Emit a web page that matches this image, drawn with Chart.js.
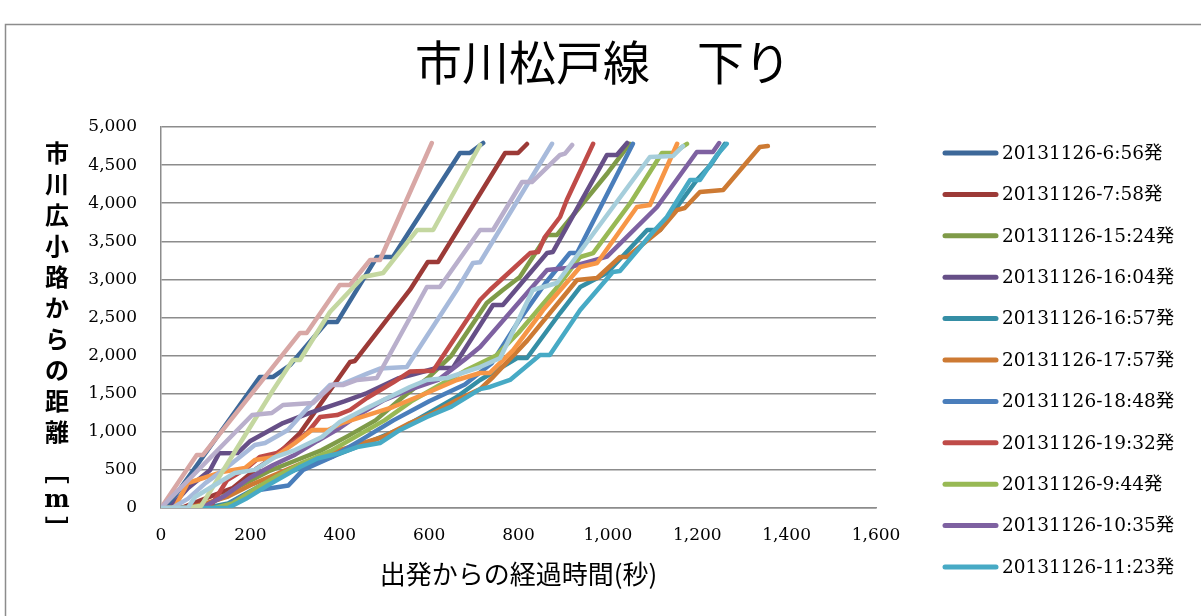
<!DOCTYPE html>
<html lang="ja">
<head>
<meta charset="utf-8">
<title>市川松戸線 下り</title>
<script src="https://cdn.jsdelivr.net/npm/chart.js@4.4.1/dist/chart.umd.min.js"></script>
<style>
  html, body { margin: 0; padding: 0; background: #fff; }
  #wrap { width: 1201px; height: 616px; }
</style>
</head>
<body>
<div id="wrap"><canvas id="chart" width="1201" height="616"></canvas></div>
<script>
// [elapsed seconds, metres from 市川広小路] for each bus run
const run0656 = [[0,0],[12,0],[221,1720],[251,1720],[289,1877],[371,2440],[394,2440],[483,3294],[519,3294],[669,4658],[691,4658],[721,4790]];
const run0758 = [[0,0],[45,0],[110,150],[160,260],[215,520],[260,700],[311,984],[423,1916],[434,1930],[557,2861],[597,3228],[620,3228],[770,4659],[799,4659],[819,4777]];
const run1524 = [[0,0],[80,0],[130,120],[180,300],[240,480],[300,620],[360,760],[420,950],[480,1150],[540,1450],[600,1720],[650,2000],[729,2690],[765,2861],[803,3031],[864,3583],[886,3583],[1000,4400],[1049,4780]];
const run1604 = [[0,0],[20,0],[60,260],[110,500],[130,720],[172,722],[200,880],[273,1115],[333,1247],[410,1400],[461,1509],[530,1700],[617,1837],[653,1837],[743,2664],[765,2664],[864,3346],[877,3360],[998,4633],[1020,4633],[1043,4790]];
const run1657 = [[0,0],[100,0],[150,60],[200,220],[250,380],[300,500],[360,620],[420,760],[480,900],[540,1050],[600,1250],[660,1450],[714,1680],[797,1969],[819,1969],[893,2559],[938,2900],[998,3084],[1088,3648],[1117,3648],[1199,4304],[1230,4500],[1262,4780]];
const run1757 = [[0,0],[60,0],[100,60],[150,150],[200,300],[260,450],[320,600],[401,761],[497,932],[557,1115],[609,1247],[662,1417],[714,1560],[743,1719],[820,2200],[931,2992],[976,3018],[1027,3294],[1043,3294],[1117,3648],[1155,3911],[1172,3937],[1206,4147],[1258,4173],[1340,4738],[1358,4750]];
const run1848 = [[0,0],[145,0],[160,80],[180,150],[212,230],[285,295],[318,500],[383,669],[450,900],[520,1150],[600,1400],[680,1620],[740,1900],[800,2450],[860,2950],[915,3346],[931,3346],[1056,4780]];
const run1932 = [[0,0],[100,0],[116,66],[148,367],[192,525],[221,669],[260,722],[327,984],[356,1194],[394,1220],[423,1286],[461,1444],[520,1650],[557,1790],[609,1800],[714,2730],[736,2861],[790,3150],[826,3346],[844,3360],[859,3556],[893,3819],[908,4042],[967,4780]];
const run0944 = [[0,0],[120,0],[160,60],[210,250],[260,420],[320,600],[380,750],[440,950],[500,1150],[560,1400],[620,1600],[680,1800],[750,2000],[800,2300],[880,2850],[938,3294],[967,3346],[1050,4000],[1121,4659],[1146,4659],[1177,4780]];
const run1035 = [[0,0],[90,0],[140,150],[200,400],[250,560],[300,700],[350,880],[400,1050],[450,1250],[500,1420],[560,1560],[620,1680],[680,1950],[714,2113],[864,3123],[908,3150],[998,3300],[1110,3950],[1199,4672],[1235,4672],[1249,4790]];
const run1123 = [[0,0],[150,0],[190,120],[240,300],[311,538],[350,650],[400,720],[439,800],[490,853],[535,1024],[595,1194],[650,1330],[714,1560],[736,1588],[781,1680],[848,2008],[870,2008],[938,2598],[1011,3097],[1027,3110],[1101,3622],[1132,3819],[1184,4304],[1206,4304],[1244,4633],[1266,4780]];
// later runs, not listed in the legend box
const run12 = [[0,0],[30,0],[60,328],[136,472],[188,525],[210,630],[255,669],[300,853],[338,1024],[374,1024],[405,1115],[519,1325],[595,1509],[662,1680],[714,1772],[736,1772],[788,2073],[855,2598],[938,3163],[976,3215],[1065,3950],[1094,3976],[1155,4780]];
const run13 = [[0,0],[25,0],[60,120],[100,330],[140,500],[210,827],[233,853],[284,1024],[338,1378],[378,1614],[407,1630],[460,1760],[490,1830],[550,1850],[662,2861],[698,3215],[714,3225],[875,4780]];
const run14 = [[0,0],[80,696],[94,696],[311,2297],[326,2297],[400,2927],[423,2927],[468,3255],[490,3255],[606,4790]];
const run15 = [[0,0],[60,0],[90,30],[251,1549],[295,1942],[311,1942],[378,2572],[452,3031],[497,3084],[573,3648],[609,3648],[714,4764]];
const run16 = [[0,0],[204,1220],[248,1247],[273,1352],[340,1378],[383,1614],[407,1614],[439,1680],[483,1706],[595,2900],[624,2900],[714,3648],[743,3648],[808,4278],[830,4278],[893,4633],[904,4650],[920,4764]];
const run17 = [[0,0],[60,0],[76,144],[165,459],[210,500],[255,669],[300,761],[360,932],[400,1128],[461,1312],[557,1588],[595,1680],[640,1706],[714,1850],[759,1969],[832,2861],[886,2953],[1094,4606],[1146,4619],[1168,4750]];

const runs = [run0656, run0758, run1524, run1604, run1657, run1757, run1848, run1932, run0944, run1035, run1123,
              run12, run13, run14, run15, run16, run17];
const labels = ['20131126-6:56発', '20131126-7:58発', '20131126-15:24発', '20131126-16:04発',
                '20131126-16:57発', '20131126-17:57発', '20131126-18:48発', '20131126-19:32発',
                '20131126-9:44発', '20131126-10:35発', '20131126-11:23発'];
const colors = ['#3d6899', '#9c3a37', '#7f9b48', '#664f87', '#358ea5', '#cd7a33',
                '#4a7ebb', '#bf4b48', '#98b954', '#7e61a1', '#47aac5',
                '#f79646', '#a7badb', '#d8a7a5', '#c4d7a0', '#b9afcc', '#a6cedb'];

const chartTitle = '市川松戸線　下り';
const xTitle = '出発からの経過時間(秒)';
const yTitle = '市川広小路からの距離';
const yUnit = ['［', 'm', '］'];

const xTicks = { min: 0, max: 1600, step: 200 };
const yTicks = { min: 0, max: 5000, step: 500 };

const GRID = '#8c8c8c';
const SERIF = '"DejaVu Serif", "Noto Sans CJK JP", serif';
const JP = '"Noto Sans CJK JP", sans-serif';

// frame, title, vertical axis title and legend are painted by hand
const decorations = {
  id: 'decorations',
  beforeDraw(chart) {
    const ctx = chart.ctx;
    ctx.save();
    ctx.fillStyle = '#fff';
    ctx.fillRect(0, 0, chart.width, chart.height);
    ctx.strokeStyle = GRID;
    ctx.lineWidth = 1.5;
    ctx.strokeRect(5.5, 24.5, chart.width + 20, chart.height + 20);
    ctx.restore();
  },
  afterDraw(chart) {
    const ctx = chart.ctx;
    ctx.save();
    ctx.fillStyle = '#000';
    ctx.textAlign = 'center';
    ctx.textBaseline = 'middle';

    ctx.font = '47px ' + JP;
    ctx.fillText(chartTitle, 603, 62);

    // y title, one upright glyph per line
    ctx.font = 'bold 24px ' + JP;
    Array.from(yTitle).forEach((ch, i) => ctx.fillText(ch, 57, 153 + i * 31));
    [472, 501, 528].forEach((y, i) => {
      ctx.save();
      ctx.translate(57, y);
      if (yUnit[i] === 'm') {
        ctx.font = 'bold 24px ' + SERIF;
      } else {
        ctx.font = 'bold 24px ' + JP;
        ctx.rotate(Math.PI / 2);
      }
      ctx.fillText(yUnit[i], 0, 0);
      ctx.restore();
    });

    // legend
    ctx.textAlign = 'left';
    ctx.font = '18.5px ' + SERIF;
    labels.forEach((label, i) => {
      const y = 153 + i * 41.4;
      ctx.strokeStyle = colors[i];
      ctx.lineWidth = 5;
      ctx.lineCap = 'round';
      ctx.beginPath();
      ctx.moveTo(945, y);
      ctx.lineTo(996, y);
      ctx.stroke();
      ctx.fillText(label, 1002, y + 1);
    });
    ctx.restore();
  }
};

new Chart(document.getElementById('chart'), {
  type: 'line',
  data: {
    datasets: runs.map((pts, i) => ({
      label: labels[i] || '',
      data: pts.map(([t, d]) => ({ x: t, y: d })),
      borderColor: colors[i],
      borderWidth: 4.5,
      borderJoinStyle: 'round',
      borderCapStyle: 'round',
      pointRadius: 0,
      tension: 0,
      fill: false,
      order: -i
    }))
  },
  options: {
    responsive: false,
    animation: false,
    devicePixelRatio: 1,
    locale: 'en-US',
    layout: { padding: { top: 127, right: 325, bottom: 0, left: 0 } },
    plugins: { legend: { display: false }, title: { display: false }, tooltip: { enabled: false } },
    scales: {
      x: {
        type: 'linear',
        min: xTicks.min, max: xTicks.max,
        afterFit: s => { s.height = 108; },
        ticks: { stepSize: xTicks.step, color: '#000', padding: 17, font: { family: SERIF, size: 17 } },
        grid: { display: false, drawTicks: false },
        border: { display: true, color: GRID, width: 1.5 },
        title: { display: true, text: xTitle, color: '#000', padding: { top: 0, bottom: 26 }, font: { family: JP, size: 26 } }
      },
      y: {
        min: yTicks.min, max: yTicks.max,
        afterFit: s => { s.width = 161; },
        ticks: { stepSize: yTicks.step, color: '#000', padding: 24, font: { family: SERIF, size: 17 } },
        grid: { color: GRID, lineWidth: 1.5, drawTicks: false },
        border: { display: true, color: GRID, width: 1.5 }
      }
    }
  },
  plugins: [decorations]
});
</script>
</body>
</html>
